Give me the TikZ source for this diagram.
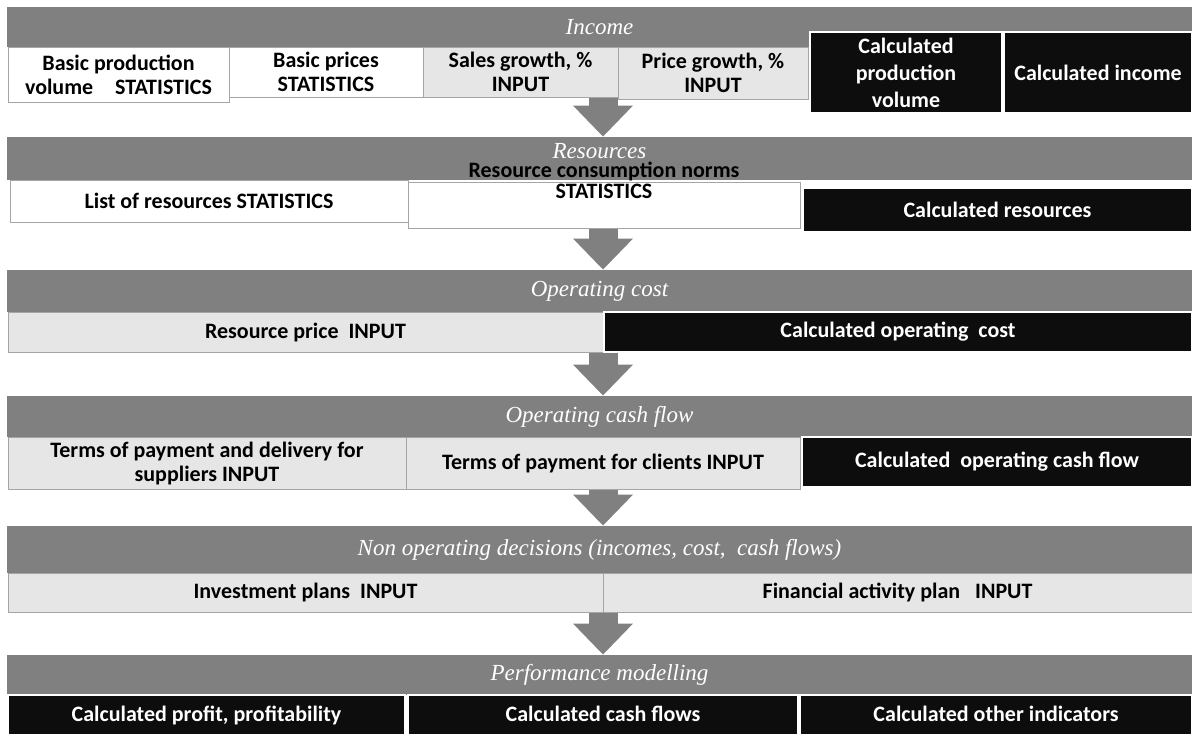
\documentclass[tikz,border=0pt]{standalone}
\usepackage{fontspec}
\setmainfont{Carlito}
\newfontfamily\headfont{Liberation Serif}
\usetikzlibrary{arrows.meta}

\definecolor{bandgray}{RGB}{128,128,128}
\definecolor{inputgray}{RGB}{230,230,230}
\definecolor{calcblack}{RGB}{13,13,13}
\definecolor{edgegray}{RGB}{165,165,165}

\begin{document}
\begin{tikzpicture}[x=0.5pt, y=-0.5pt,
	band/.style={fill=bandgray, minimum width=592.5pt, inner sep=0pt, text=white,
		font=\headfont\itshape\fontsize{11.5}{13}\selectfont},
	bandtitle/.style={inner sep=0pt, text=white, font=\headfont\itshape\fontsize{11.5}{13}\selectfont},
	statbox/.style={draw=edgegray, fill=white, inner sep=0pt, align=center,
		font=\bfseries\fontsize{11}{12}\selectfont},
	inputbox/.style={statbox, fill=inputgray},
	calcbox/.style={statbox, draw=white, line width=1.2pt, fill=calcblack, text=white},
	flow/.style={draw=bandgray, line width=14.5pt, -{Triangle[width=29pt,length=15.5pt]}}]
				\useasboundingbox (0,0) rectangle (1192,735);
				% stage bands
				\node[band, minimum height=20pt] (income) at (599.5,27) {Income};
				\node[band, minimum height=21.5pt] (resources) at (599.5,158.5) {};
				\node[bandtitle] (restitle) at (599.5,151) {Resources};
				\node[band, minimum height=21pt] (opcost) at (599.5,291) {Operating cost};
				\node[band, minimum height=20.5pt] (opcash) at (599.5,416.5) {Operating cash flow};
				\node[band, minimum height=23.5pt] (nonop) at (599.5,549.5) {Non operating decisions (incomes, cost, \ cash flows)};
				\node[band, minimum height=20pt] (perf) at (599.5,675) {Performance modelling};
				% arrows between stages
				\coordinate (a1) at (603,97);
				\coordinate (a2) at (603,228);
				\coordinate (a3) at (603,352);
				\coordinate (a4) at (603,489);
				\coordinate (a5) at (603,612);
				\draw[flow] (a1) to (a1 |- resources.north);
				\draw[flow] (a2) to (a2 |- opcost.north);
				\draw[flow] (a3) to (a3 |- opcash.north);
				\draw[flow] (a4) to (a4 |- nonop.north);
				\draw[flow] (a5) to (a5 |- perf.north);
				% income
				\node[statbox, minimum width=110.5pt, minimum height=27.5pt] (basevol) at (118.5,74.5) {Basic production\\volume\quad STATISTICS};
				\node[statbox, minimum width=97pt, minimum height=25pt] (baseprice) at (326,72) {Basic prices\\STATISTICS};
				\node[inputbox, minimum width=97.5pt, minimum height=25pt] (salesgr) at (520.5,72) {Sales growth, \%\\INPUT};
				\node[inputbox, minimum width=95pt, minimum height=26pt] (pricegr) at (713,73) {Price growth, \%\\INPUT};
				\node[calcbox, minimum width=96pt, minimum height=40.5pt, font=\bfseries\fontsize{11}{13.5}\selectfont] (calcvol) at (906,72.5) {Calculated\\production\\volume};
				\node[calcbox, minimum width=94pt, minimum height=40.5pt] (calcinc) at (1098,72.5) {Calculated income};
				% resources
				\node[statbox, minimum width=199pt, minimum height=21pt] (reslist) at (209,201) {List of resources STATISTICS};
				\node[statbox, minimum width=196pt, minimum height=23pt] (resnorms) at (604,205) {};
				\node[align=center, inner sep=0pt, font=\bfseries\fontsize{11}{10.5}\selectfont] (normstext) at (604,180) {Resource consumption norms\\STATISTICS};
				\node[calcbox, minimum width=194.5pt, minimum height=22pt] (calcres) at (997.5,210) {Calculated resources};
				% operating cost
				\node[inputbox, minimum width=297.5pt, minimum height=20pt] (resprice) at (305.5,332) {Resource price \ INPUT};
				\node[calcbox, minimum width=294pt, minimum height=20pt] (calcopcost) at (898,332) {Calculated operating \ cost};
				% operating cash flow
				\node[inputbox, minimum width=199pt, minimum height=26pt] (supterms) at (207,463) {Terms of payment and delivery for\\suppliers INPUT};
				\node[inputbox, minimum width=197pt, minimum height=26pt] (clientterms) at (603,463) {Terms of payment for clients INPUT};
				\node[calcbox, minimum width=195pt, minimum height=25pt] (calccash) at (997,462) {Calculated \ operating cash flow};
				% non operating decisions
				\node[inputbox, minimum width=297.5pt, minimum height=19.5pt] (invest) at (305.5,592.5) {Investment plans \ INPUT};
				\node[inputbox, minimum width=294.5pt, minimum height=19.5pt] (finplan) at (897.5,592.5) {Financial activity plan \ \ INPUT};
				% performance modelling
				\node[calcbox, minimum width=198.5pt, minimum height=20pt, text depth=0.25ex] (calcprofit) at (206.5,715) {Calculated profit, profitability};
				\node[calcbox, minimum width=195pt, minimum height=20pt, text depth=0.25ex] (calcflows) at (603,715) {Calculated cash flows};
				\node[calcbox, minimum width=196pt, minimum height=20pt, text depth=0.25ex] (calcother) at (996,715) {Calculated other indicators};
			\end{tikzpicture}
\end{document}
